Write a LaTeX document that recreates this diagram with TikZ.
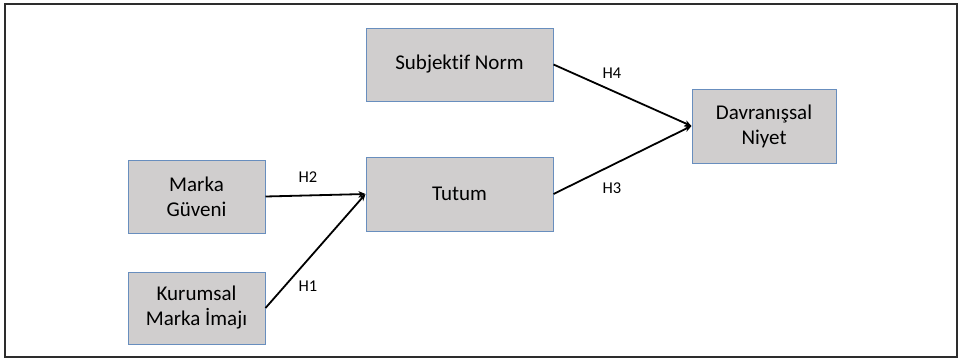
\documentclass[tikz,border=0pt]{standalone}
\usepackage{fontspec}
\setmainfont{Carlito}[Ligatures={NoCommon}]
\usetikzlibrary{arrows.meta}
\definecolor{boxfill}{RGB}{208,206,206}
\definecolor{boxline}{RGB}{104,142,190}
\definecolor{framec}{RGB}{45,45,45}
\begin{document}
\begin{tikzpicture}[x=1bp,y=-1bp,
  box/.style={draw=boxline,fill=boxfill,line width=1bp,inner sep=0pt,align=center,
    font=\fontsize{21bp}{25bp}\selectfont},
  hyp/.style={font=\fontsize{16.5bp}{18bp}\selectfont,inner sep=0pt},
  link/.style={line width=1.8bp,-{Stealth[length=7bp,width=6bp]}}]
\useasboundingbox (0,0) rectangle (959,362);
\draw[framec,line width=2bp] (5,4) rectangle (957,357);
\node[box,minimum width=187bp,minimum height=73bp] (sn) at (459.5,64.5) {Subjektif Norm};
\node[box,minimum width=187bp,minimum height=74bp] (tu) at (459.5,194) {Tutum};
\node[box,minimum width=137bp,minimum height=73bp] (mg) at (196.5,196.5) {Marka\\Güveni};
\node[box,minimum width=137bp,minimum height=72bp] (km) at (196.5,308) {Kurumsal\\Marka İmajı};
\node[box,minimum width=144bp,minimum height=74bp] (dn) at (764,126) {Davranışsal\\Niyet};
\draw[link] (mg.east) -- (tu.west);
\draw[link] (km.east) -- (tu.west);
\draw[link] (sn.east) -- (dn.west);
\draw[link] (tu.east) -- (dn.west);
\node[hyp] (h2) at (308,177) {H2};
\node[hyp] (h1) at (308,286) {H1};
\node[hyp] (h4) at (612,73) {H4};
\node[hyp] (h3) at (612,188) {H3};
\end{tikzpicture}
\end{document}
